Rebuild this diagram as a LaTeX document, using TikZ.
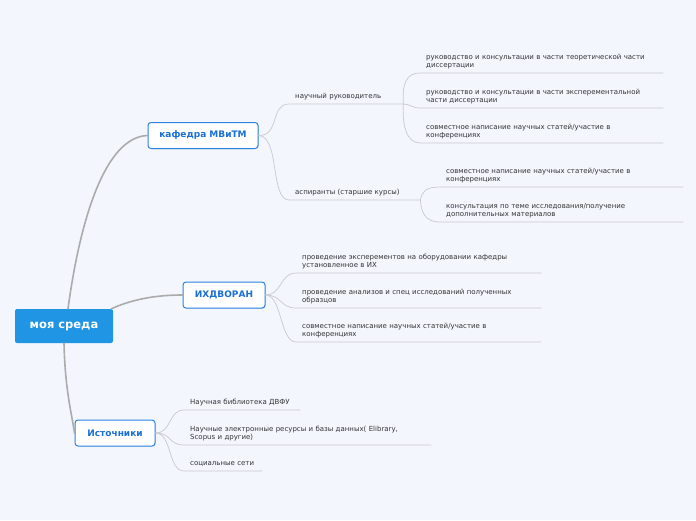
\documentclass[tikz,border=0pt]{standalone}
\usepackage{fontspec}
\setmainfont{DejaVu Sans}
\usetikzlibrary{shadows}
\definecolor{PageBlue}{HTML}{F3F6FD}
\definecolor{RootBlue}{HTML}{1F95E3}
\definecolor{TopicBlue}{HTML}{2C84E0}
\definecolor{TopicText}{HTML}{1A6FD6}
\definecolor{BranchGrey}{HTML}{ABABAB}
\definecolor{TwigGrey}{HTML}{C9C9CE}
\definecolor{LeafText}{HTML}{333333}

\begin{document}
\begin{tikzpicture}[x=1pt, y=-1pt,
    root/.style={fill=RootBlue, text=white, rounded corners=2pt, minimum width=98pt, minimum height=34pt, font=\fontsize{11.5}{13}\selectfont\bfseries},
    topic/.style={draw=TopicBlue, line width=1pt, fill=white, text=TopicText, rounded corners=3pt, minimum height=26pt, font=\fontsize{9}{10}\selectfont\bfseries, drop shadow={opacity=0.2, shadow xshift=0.8pt, shadow yshift=-0.8pt}},
    leaf/.style={anchor=south west, align=left, inner xsep=6pt, inner ysep=5.5pt, text depth=0pt, text=LeafText, font=\fontsize{7}{8.3}\selectfont},
    leaftwo/.style={leaf, text depth=8.3pt},
    branch/.style={draw=BranchGrey, line width=1.6pt, line cap=round},
    twig/.style={draw=TwigGrey, line width=0.7pt}]
    \fill[PageBlue] (0,0) rectangle (696,520);

    \node[root] (sreda) at (64,326) {моя среда};
    \node[topic, minimum width=110pt] (kaf) at (203,135.5) {кафедра МВиТМ};
    \node[topic, minimum width=82pt] (ihd) at (224,295) {ИХДВОРАН};
    \node[topic, minimum width=80pt] (ist) at (115,433) {Источники};

    \node[leaf, text width=102pt] (ruk) at (289,104) {научный руководитель};
    \node[leaf, text width=119pt] (asp) at (289,200) {аспиранты (старшие курсы)};
    \node[leaftwo, text width=231pt] (ruk1) at (420,73) {руководство и консультации в части теоретической части\\диссертации};
    \node[leaftwo, text width=231pt] (ruk2) at (420,108) {руководство и консультации в части эксперементальной\\части диссертации};
    \node[leaftwo, text width=231pt] (ruk3) at (420,143) {совместное написание научных статей/участие в\\конференциях};
    \node[leaftwo, text width=231pt] (asp1) at (440,187) {совместное написание научных статей/участие в\\конференциях};
    \node[leaftwo, text width=231pt] (asp2) at (440,222) {консультация по теме исследования/получение\\дополнительных материалов};
    \node[leaftwo, text width=233pt] (ihd1) at (296,273) {проведение эксперементов на оборудовании кафедры\\установленное в ИХ};
    \node[leaftwo, text width=233pt] (ihd2) at (296,308) {проведение анализов и спец исследований полученных\\образцов};
    \node[leaftwo, text width=233pt] (ihd3) at (296,342) {совместное написание научных статей/участие в\\конференциях};
    \node[leaf, text width=104pt] (ist1) at (184,410) {Научная библиотека ДВФУ};
    \node[leaftwo, text width=235pt] (ist2) at (184,445) {Научные электронные ресурсы и базы данных( Elibrary,\\Scopus и другие)};
    \node[leaf, text width=66pt] (ist3) at (184,471) {социальные сети};

    \draw[branch] ([xshift=4pt]sreda.north) .. controls (80,220) and (105,137) .. (kaf.west);
    \draw[branch] ([xshift=-2pt]sreda.north east) .. controls (135,298) and (160,295) .. (ihd.west);
    \draw[branch] (sreda.south) .. controls (65,390) and (72,415) .. (ist.west);

    \draw[twig] (kaf.east) .. controls (280,136) and (270,104) .. (ruk.south west) -- (ruk.south east);
    \draw[twig] (kaf.east) .. controls (280,136) and (270,200) .. (asp.south west) -- (asp.south east);
    \draw[twig] (ruk.south east) .. controls (402,84) and (406,73) .. (ruk1.south west) -- (ruk1.south east);
    \draw[twig] (ruk.south east) .. controls (410,104) and (412,108) .. (ruk2.south west) -- (ruk2.south east);
    \draw[twig] (ruk.south east) .. controls (402,124) and (406,143) .. (ruk3.south west) -- (ruk3.south east);
    \draw[twig] (asp.south east) .. controls (422,192) and (425,187) .. (asp1.south west) -- (asp1.south east);
    \draw[twig] (asp.south east) .. controls (421,212) and (425,222) .. (asp2.south west) -- (asp2.south east);
    \draw[twig] (ihd.east) .. controls (282,295) and (280,273) .. (ihd1.south west) -- (ihd1.south east);
    \draw[twig] (ihd.east) .. controls (282,295) and (280,308) .. (ihd2.south west) -- (ihd2.south east);
    \draw[twig] (ihd.east) .. controls (282,295) and (280,342) .. (ihd3.south west) -- (ihd3.south east);
    \draw[twig] (ist.east) .. controls (172,433) and (168,410) .. (ist1.south west) -- (ist1.south east);
    \draw[twig] (ist.east) .. controls (172,433) and (168,445) .. (ist2.south west) -- (ist2.south east);
    \draw[twig] (ist.east) .. controls (172,433) and (168,471) .. (ist3.south west) -- (ist3.south east);
  \end{tikzpicture}
\end{document}
